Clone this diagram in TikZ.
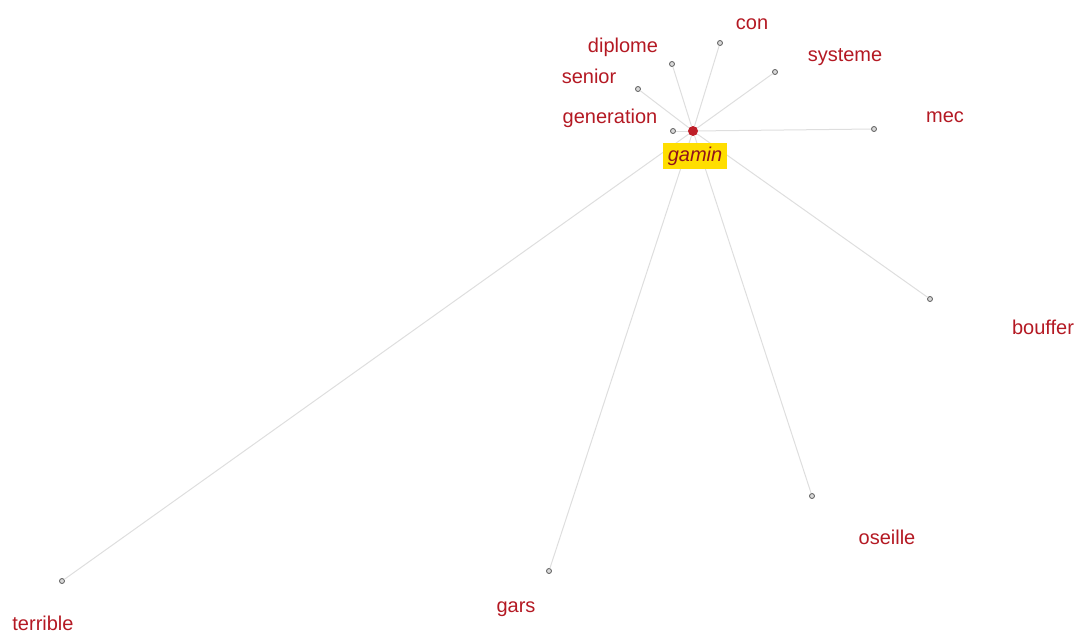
\documentclass[tikz,border=0pt]{standalone}
\usepackage{fontspec}
\setmainfont{Liberation Sans}
\usepackage{tikz}
\definecolor{wordred}{RGB}{180,25,35}
\definecolor{hubred}{RGB}{190,30,40}
\definecolor{edgegrey}{RGB}{222,222,222}
\definecolor{gaminbg}{RGB}{255,222,0}

\begin{document}
\begin{tikzpicture}[x=1pt,y=-1pt,
    word/.style={text=wordred,font=\fontsize{20}{23}\selectfont,inner sep=1pt},
    leaf/.style={circle,draw=black!65,fill=black!15,line width=0.8pt,inner sep=0pt,minimum size=5pt},
    link/.style={edgegrey,line width=1pt}]
    \useasboundingbox (0,0) rectangle (1082,635);
    \node[circle,fill=hubred,inner sep=0pt,minimum size=10pt] (h) at (693, 131) {};
    \node[leaf] (a) at (673, 131) {};
    \node[leaf] (b) at (638, 89) {};
    \node[leaf] (c) at (672, 64) {};
    \node[leaf] (d) at (720, 43) {};
    \node[leaf] (e) at (775, 72) {};
    \node[leaf] (f) at (874, 129) {};
    \node[leaf] (i) at (930, 299) {};
    \node[leaf] (j) at (812, 496) {};
    \node[leaf] (k) at (549, 571) {};
    \node[leaf] (l) at (62, 581) {};
    \node[word] (a1) at (610, 118) {generation};
    \node[word] (b1) at (589, 76) {senior};
    \node[word] (c1) at (623, 47) {diplome};
    \node[word] (d1) at (752, 24) {con};
    \node[word] (e1) at (845, 57) {systeme};
    \node[word] (f1) at (945, 117) {mec};
    \node[word] (i1) at (1043, 327) {bouffer};
    \node[word] (j1) at (887, 537) {oseille};
    \node[word] (k1) at (516, 609) {gars};
    \node[word] (l1) at (43, 623) {terrible};
    \draw [link] (h) to (a);
    \draw [link] (h) to (b);
    \draw [link] (h) to (c);
    \draw [link] (h) to (d);
    \draw [link] (h) to (e);
    \draw [link] (h) to (f);
    \draw [link] (h) to (i);
    \draw [link] (h) to (j);
    \draw [link] (h) to (k);
    \draw [link] (h) to (l);
    \node[fill=gaminbg,text=wordred!80!black,font=\fontsize{20}{23}\selectfont\itshape,inner xsep=5pt,inner ysep=4pt] (g) at (695, 156) {gamin};
  \end{tikzpicture}
\end{document}
